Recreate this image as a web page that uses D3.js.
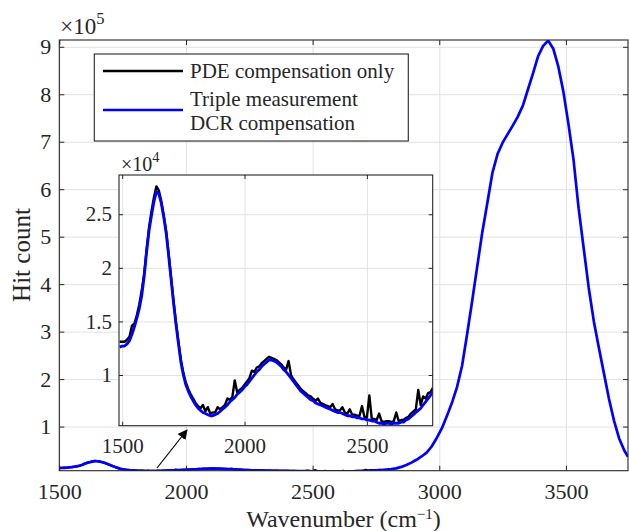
<!DOCTYPE html>
<html>
<head>
<meta charset="utf-8">
<script src="https://cdn.jsdelivr.net/npm/d3@7"></script>
<style>
  body { margin: 0; background: #fff; }
  svg text { font-family: "Liberation Serif", "DejaVu Serif", serif; fill: #262626; }
</style>
</head>
<body>
<script>
// Inset grid (shared by both series), cm^-1
const insetWavenumber = [
  1490,1500,1510,1520,1530,1540,1550,1560,1570,1580,1590,1600,1610,1620,1630,1640,1650,1660,1670,1680,
  1690,1700,1710,1720,1730,1740,1750,1760,1770,1780,1790,1800,1810,1820,1830,1840,1850,1860,1870,1880,
  1890,1900,1910,1920,1930,1940,1950,1960,1970,1980,1990,2000,2010,2020,2030,2040,2050,2060,2070,2080,
  2090,2100,2110,2120,2130,2140,2150,2160,2170,2180,2190,2200,2210,2220,2230,2240,2250,2260,2270,2280,
  2290,2300,2310,2320,2330,2340,2350,2360,2370,2380,2390,2400,2410,2420,2430,2440,2450,2460,2470,2480,
  2490,2500,2510,2520,2530,2540,2550,2560,2570,2580,2590,2600,2610,2620,2630,2640,2650,2660,2670,2680,
  2690,2700,2710,2720,2730,2740,2750,2760,2770
];

// PDE compensation only (black), hit count
const pdeCounts = [
  13100,13100,13100,13300,13600,14600,14800,15600,16600,17900,19500,21800,23800,25300,26600,27600,27200,26200,24900,23400,
  21300,19100,16900,14900,13100,11400,10200,9300,8700,8200,7800,7400,7100,6900,7200,6600,7000,6400,6500,6500,
  7000,6800,7000,7200,7800,7700,7900,9500,8400,8600,8800,9100,9400,9700,10400,10300,10700,10800,11100,11300,
  11500,11700,11600,11500,11400,11200,11000,10700,10500,11300,10000,9600,9300,9000,8700,8500,8300,8100,8000,7800,
  7600,7800,7400,7300,7200,7100,7000,7300,6800,6700,6700,7000,6500,6400,6800,6300,6300,6200,6200,7100,
  6100,6000,8100,5900,5900,5800,6400,5700,5600,5700,5700,5600,5700,6500,5700,5800,5800,6000,6100,6400,
  6600,6800,8600,7200,8000,7800,8300,8400,8800
];

// Triple measurement DCR compensation (blue), hit count
const tripleWavenumber = insetWavenumber.concat([
  2790,2810,2830,2850,2870,2890,2910,2930,2950,2970,2990,3010,3030,3050,3070,3090,3110,3130,3150,3170,
  3190,3210,3230,3250,3270,3290,3310,3330,3350,3370,3390,3410,3430,3450,3470,3490,3510,3530,3550,3570,
  3590,3610,3630,3650,3670,3690,3710,3730,3745
]);
const tripleCounts = [
  12600,12700,12700,12900,13200,13800,14500,15300,16200,17400,19200,21500,23500,24900,26200,27100,26900,26000,24700,23200,
  21100,18900,16700,14700,12900,11200,10000,9100,8500,8000,7600,7200,6900,6700,6500,6400,6300,6200,6200,6300,
  6400,6600,6800,7000,7200,7500,7700,7900,8200,8400,8600,8900,9100,9400,9700,10000,10300,10500,10800,11000,
  11200,11400,11400,11300,11200,11000,10800,10500,10300,10000,9700,9400,9100,8800,8500,8300,8100,7900,7700,7600,
  7400,7300,7200,7100,7000,6900,6800,6700,6600,6500,6500,6400,6300,6200,6200,6100,6100,6000,6000,5900,
  5900,5800,5800,5700,5700,5600,5500,5500,5400,5500,5500,5400,5500,5500,5500,5600,5600,5800,5900,6100,
  6300,6500,6700,6900,7200,7500,7800,8100,8500,
  9300,10300,12000,15000,19000,24000,30000,37000,45000,58000,76000,96000,122000,150000,183000,228000,295000,365000,438000,510000,
  572000,635000,674000,698000,716000,734000,753000,776000,810000,844000,880000,902000,913000,896000,858000,805000,737000,662000,560000,476000,
  392000,322000,266000,212000,158000,112000,75000,50000,36000
];

const mainXTicks = [1500, 2000, 2500, 3000, 3500];
const mainYTicks = [100000, 200000, 300000, 400000, 500000, 600000, 700000, 800000, 900000];
const insetXTicks = [1500, 2000, 2500];
const insetYTicks = [10000, 15000, 20000, 25000];
const legendLabels = [["PDE compensation only"], ["Triple measurement", "DCR compensation"]];
const seriesColors = ["#000000", "#0000ff"];

const W = 629, H = 531;
const axisColor = "#262626";
const gridColor = "#e2e2e2";

const svg = d3.select("body").append("svg")
  .attr("width", W).attr("height", H);

svg.append("rect").attr("width", W).attr("height", H).attr("fill", "#fff");

const defs = svg.append("defs");

// draws one MATLAB-like axes box: grid, series, inward ticks, labels
function drawAxes(opt) {
  const { left, top, right, bottom, xDomain, yDomain, xTicks, yTicks, yFmt, fontSize, tickLen, id } = opt;
  const x = d3.scaleLinear().domain(xDomain).range([left, right]);
  const y = d3.scaleLinear().domain(yDomain).range([bottom, top]);
  const g = svg.append("g");

  g.append("rect")
    .attr("x", left).attr("y", top)
    .attr("width", right - left).attr("height", bottom - top)
    .attr("fill", "#fff");

  // grid
  g.append("g")
    .attr("transform", `translate(0,${bottom})`)
    .call(d3.axisBottom(x).tickValues(xTicks).tickSize(-(bottom - top)).tickFormat(""))
    .call(s => s.select(".domain").remove())
    .selectAll("line").attr("stroke", gridColor).attr("stroke-width", 1);
  g.append("g")
    .attr("transform", `translate(${left},0)`)
    .call(d3.axisLeft(y).tickValues(yTicks).tickSize(-(right - left)).tickFormat(""))
    .call(s => s.select(".domain").remove())
    .selectAll("line").attr("stroke", gridColor).attr("stroke-width", 1);

  defs.append("clipPath").attr("id", id)
    .append("rect")
    .attr("x", left).attr("y", top)
    .attr("width", right - left).attr("height", bottom - top);

  const line = d3.line()
    .x(d => x(d[0])).y(d => y(d[1]));

  const lines = g.append("g").attr("clip-path", `url(#${id})`);
  lines.append("path")
    .datum(d3.zip(insetWavenumber, pdeCounts))
    .attr("d", line)
    .attr("fill", "none").attr("stroke", seriesColors[0])
    .attr("stroke-width", opt.lw).attr("stroke-linejoin", "round");
  lines.append("path")
    .datum(d3.zip(tripleWavenumber, tripleCounts))
    .attr("d", line)
    .attr("fill", "none").attr("stroke", seriesColors[1])
    .attr("stroke-width", opt.lw + 0.4).attr("stroke-linejoin", "round");

  // ticks and labels
  const styleAxis = s => {
    s.select(".domain").remove();
    s.selectAll("line").attr("stroke", axisColor);
    s.selectAll("text").attr("font-size", fontSize).attr("fill", axisColor)
      .style("font-family", '"Liberation Serif", serif');
  };
  g.append("g").attr("transform", `translate(0,${bottom})`)
    .call(d3.axisBottom(x).tickValues(xTicks).tickSizeInner(-tickLen).tickSizeOuter(0).tickPadding(opt.xPad).tickFormat(d3.format("d")))
    .call(styleAxis);
  g.append("g").attr("transform", `translate(0,${top})`)
    .call(d3.axisTop(x).tickValues(xTicks).tickSizeInner(-tickLen).tickSizeOuter(0).tickFormat(""))
    .call(styleAxis);
  g.append("g").attr("transform", `translate(${left},0)`)
    .call(d3.axisLeft(y).tickValues(yTicks).tickSizeInner(-tickLen).tickSizeOuter(0).tickPadding(opt.yPad).tickFormat(yFmt))
    .call(styleAxis);
  g.append("g").attr("transform", `translate(${right},0)`)
    .call(d3.axisRight(y).tickValues(yTicks).tickSizeInner(-tickLen).tickSizeOuter(0).tickFormat(""))
    .call(styleAxis);

  g.append("rect")
    .attr("x", left).attr("y", top)
    .attr("width", right - left).attr("height", bottom - top)
    .attr("fill", "none").attr("stroke", axisColor).attr("stroke-width", 1.1);

  // exponent label
  const ex = g.append("text")
    .attr("x", left + opt.expDx).attr("y", top - opt.expDy)
    .attr("font-size", opt.expSize);
  ex.append("tspan").text("\u00d710");
  ex.append("tspan").attr("dy", -opt.expSize * 0.42).attr("font-size", opt.expSize * 0.72).text(opt.expText);

  return { x, y, g };
}

// main axes
drawAxes({
  id: "clipMain",
  left: 59.3, top: 40, right: 628, bottom: 470.7,
  xDomain: [1500, 3745], yDomain: [7000, 914300],
  xTicks: mainXTicks, yTicks: mainYTicks,
  yFmt: d => d / 1e5,
  fontSize: 22, tickLen: 5, lw: 2.3, xPad: 13, yPad: 8,
  expDx: 1, expDy: 6, expSize: 23, expText: "5"
});

// axis titles
svg.append("text")
  .attr("x", 343.5).attr("y", 527)
  .attr("text-anchor", "middle").attr("font-size", 24)
  .call(t => {
    t.append("tspan").text("Wavenumber (cm");
    t.append("tspan").attr("dy", -8).attr("font-size", 15).text("\u22121");
    t.append("tspan").attr("dy", 8).text(")");
  });
svg.append("text")
  .attr("transform", "translate(30,255) rotate(-90)")
  .attr("text-anchor", "middle").attr("font-size", 25)
  .text("Hit count");

// legend
const legend = svg.append("g");
legend.append("rect")
  .attr("x", 94.3).attr("y", 54).attr("width", 314).attr("height", 87)
  .attr("fill", "#fff").attr("stroke", axisColor).attr("stroke-width", 1.1);
const legendRows = [[71, [78]], [110, [106, 130]]];
legendRows.forEach(([ly, baselines], i) => {
  legend.append("line")
    .attr("x1", 103).attr("x2", 183).attr("y1", ly).attr("y2", ly)
    .attr("stroke", seriesColors[i]).attr("stroke-width", 2.4);
  legendLabels[i].forEach((txt, j) => {
    legend.append("text")
      .attr("x", 190).attr("y", baselines[j])
      .attr("font-size", 21).attr("fill", "#000")
      .text(txt);
  });
});

// inset axes
drawAxes({
  id: "clipInset",
  left: 119, top: 175, right: 432.7, bottom: 425.7,
  xDomain: [1487, 2769], yDomain: [5270, 28660],
  xTicks: insetXTicks, yTicks: insetYTicks,
  yFmt: d => d / 1e4,
  fontSize: 21, tickLen: 4, lw: 2.4, xPad: 12, yPad: 7,
  expDx: 2, expDy: 4.5, expSize: 20, expText: "4"
});

// arrow pointing at the zoomed region
defs.append("marker")
  .attr("id", "arrowHead")
  .attr("viewBox", "0 0 10 10")
  .attr("refX", 9).attr("refY", 5)
  .attr("markerWidth", 10).attr("markerHeight", 10)
  .attr("markerUnits", "userSpaceOnUse")
  .attr("orient", "auto")
  .append("path").attr("d", "M0,0 L10,5 L0,10 Z").attr("fill", "#000");
svg.append("line")
  .attr("x1", 157).attr("y1", 468).attr("x2", 187).attr("y2", 430)
  .attr("stroke", "#000").attr("stroke-width", 1.2)
  .attr("marker-end", "url(#arrowHead)");
</script>
</body>
</html>
